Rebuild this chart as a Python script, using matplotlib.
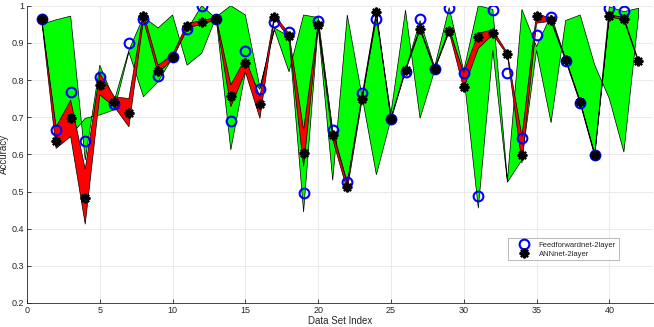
import numpy as np
import matplotlib
matplotlib.use("Agg")
import matplotlib.pyplot as plt

plt.rcParams['font.family'] = ['Liberation Sans', 'DejaVu Sans']

# Data
ff_acc = [0.965, 0.665, 0.767, 0.635, 0.807, 0.735, 0.900, 0.965, 0.810, 0.862,
          0.937, 0.998, 0.965, 0.690, 0.877, 0.777, 0.955, 0.930, 0.497, 0.958,
          0.665, 0.525, 0.765, 0.965, 0.695, 0.822, 0.963, 0.830, 0.995, 0.820,
          0.487, 0.988, 0.820, 0.645, 0.920, 0.970, 0.852, 0.738, 0.598, 0.995,
          0.985]
ann_acc = [0.965, 0.637, 0.698, 0.482, 0.787, 0.742, 0.711, 0.973, 0.825, 0.862,
           0.945, 0.955, 0.965, 0.757, 0.845, 0.735, 0.970, 0.918, 0.603, 0.948,
           0.652, 0.512, 0.748, 0.982, 0.695, 0.827, 0.938, 0.830, 0.932, 0.780,
           0.915, 0.926, 0.870, 0.598, 0.972, 0.962, 0.855, 0.740, 0.598, 0.973,
           0.965, 0.850]

ff_band_a = [0.950, 0.962, 0.972, 0.585, 0.840, 0.745, 0.880, 0.970, 0.940, 0.975,
             0.840, 0.872, 0.970, 1.000, 0.975, 0.780, 0.940, 0.917, 0.445, 0.945,
             0.530, 0.975, 0.760, 0.545, 0.695, 0.825, 0.960, 0.835, 0.995, 0.825,
             1.000, 0.990, 0.530, 0.990, 0.890, 0.975, 0.855, 0.740, 0.600, 0.997,
             0.984, 0.993]
ff_band_b = [0.965, 0.665, 0.650, 0.697, 0.706, 0.720, 0.875, 0.755, 0.795, 0.860,
             0.935, 1.000, 0.965, 0.612, 0.820, 0.775, 0.935, 0.822, 0.975, 0.968,
             0.665, 0.525, 0.750, 0.965, 0.710, 0.988, 0.697, 0.825, 0.940, 0.815,
             0.455, 0.880, 0.525, 0.585, 0.880, 0.685, 0.960, 0.975, 0.840, 0.750,
             0.606, 0.970]

ann_band_hi = [0.967, 0.674, 0.746, 0.560, 0.818, 0.755, 0.750, 0.980, 0.840, 0.868,
               0.952, 0.960, 0.968, 0.787, 0.858, 0.755, 0.975, 0.925, 0.665, 0.953,
               0.660, 0.522, 0.755, 0.985, 0.698, 0.830, 0.941, 0.833, 0.935, 0.820,
               0.926, 0.935, 0.873, 0.648, 0.980, 0.965, 0.858, 0.743, 0.601, 0.976,
               0.968, 0.853]
ann_band_lo = [0.963, 0.616, 0.648, 0.412, 0.760, 0.728, 0.674, 0.962, 0.818, 0.856,
               0.940, 0.950, 0.962, 0.728, 0.822, 0.697, 0.966, 0.912, 0.567, 0.944,
               0.640, 0.503, 0.742, 0.976, 0.692, 0.824, 0.935, 0.827, 0.929, 0.777,
               0.885, 0.922, 0.867, 0.576, 0.953, 0.958, 0.852, 0.737, 0.595, 0.970,
               0.962, 0.847]

x_ff = np.arange(1, len(ff_acc) + 1)
x_ann = np.arange(1, len(ann_acc) + 1)
x_band = np.arange(1, len(ff_band_a) + 1)

fig = plt.figure(figsize=(6.54, 3.27), dpi=100)
ax = fig.add_axes([27/654, 1 - 303/327, (653 - 27)/654, (303 - 5.7)/327])

# bands
ax.fill(np.concatenate([x_band, x_band[::-1]]),
        np.concatenate([ff_band_a, ff_band_b[::-1]]),
        facecolor='#00ff00', edgecolor='black', linewidth=0.5, zorder=2)
ax.fill(np.concatenate([x_ann, x_ann[::-1]]),
        np.concatenate([ann_band_hi, ann_band_lo[::-1]]),
        facecolor='#ff0000', edgecolor='black', linewidth=0.5, zorder=3)

ax.plot(x_ff, ff_acc, linestyle='none', marker='o', markersize=7,
        markerfacecolor='none', markeredgecolor='#0000ff', markeredgewidth=1.5,
        label='Feedforwardnet-2layer', zorder=4)
ax.plot(x_ann, ann_acc, linestyle='none', marker=(8, 2, 0), markersize=7,
        markeredgecolor='black', markeredgewidth=1.6, color='black',
        label='ANNnet-2layer', zorder=5)

ax.set_xlim(0, 43)
ax.set_ylim(0.2, 1.0)
ax.set_xticks(np.arange(0, 41, 5))
ax.set_yticks(np.arange(0.2, 1.01, 0.1))
ax.set_yticklabels(['0.2', '0.3', '0.4', '0.5', '0.6', '0.7', '0.8', '0.9', '1'])
ax.grid(True, color='#e6e6e6', linewidth=0.6, zorder=0)
ax.set_axisbelow(True)

gc = '#262626'
for s in ['top', 'right']:
    ax.spines[s].set_visible(False)
for s in ['left', 'bottom']:
    ax.spines[s].set_color(gc)
    ax.spines[s].set_linewidth(0.6)
ax.tick_params(direction='in', length=3, width=0.6, colors=gc, labelsize=6.5,
               pad=2)
ax.set_xlabel('Data Set Index', fontsize=7, color=gc, labelpad=1)
ax.set_ylabel('Accuracy', fontsize=7, color=gc, labelpad=2)

leg = ax.legend(loc='upper left', bbox_to_anchor=(0.768, 0.217), borderaxespad=0,
                fontsize=5.5, frameon=True, fancybox=False, handletextpad=0.1,
                borderpad=0.35, labelspacing=0.25, handlelength=3.6)
leg.get_frame().set_edgecolor('#999999')
leg.get_frame().set_linewidth(0.6)
for t in leg.get_texts():
    t.set_color(gc)

fig.savefig('out.png', dpi=100)
